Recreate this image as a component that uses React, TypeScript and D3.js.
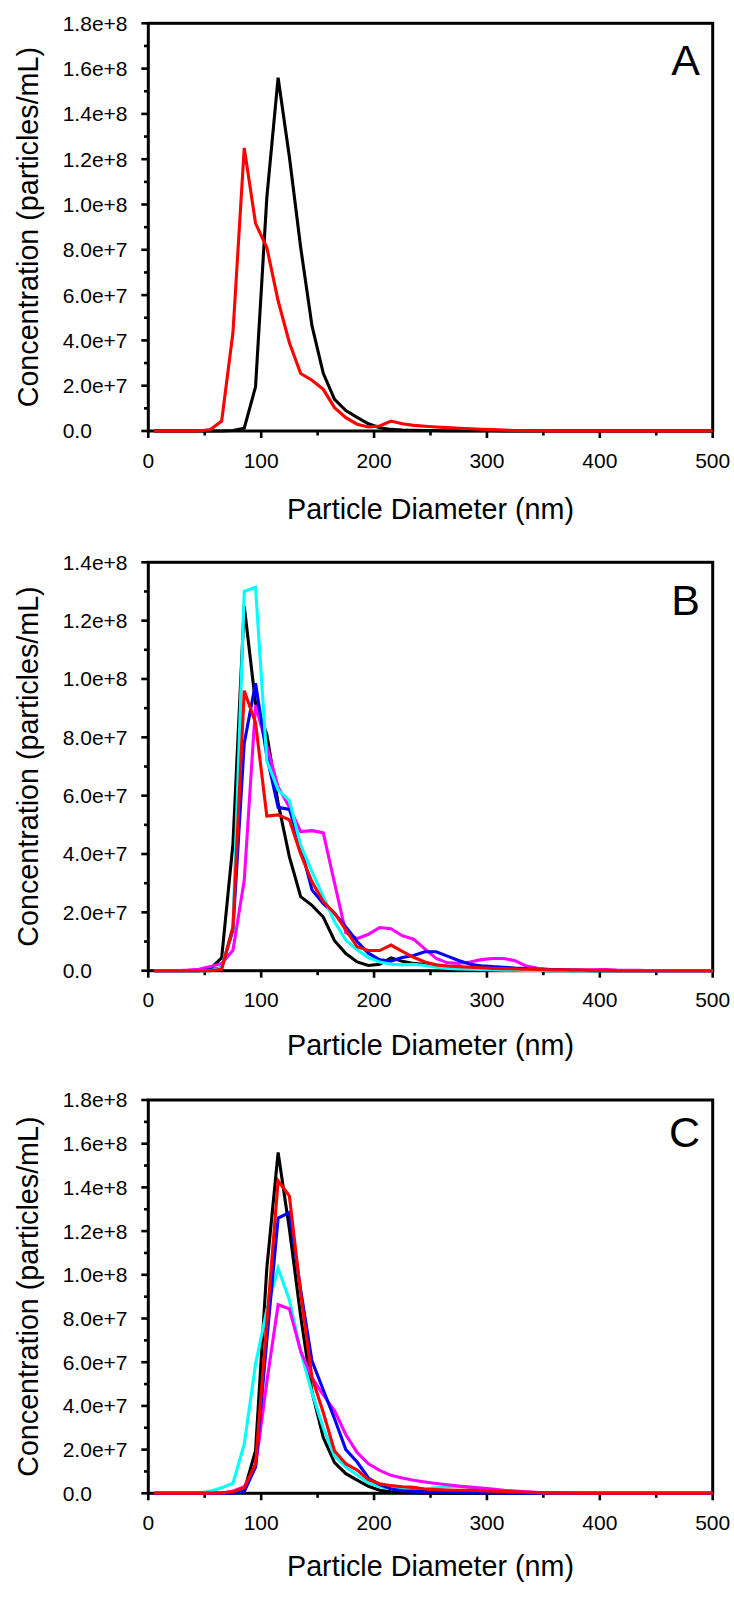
import React from 'react';
import * as d3 from 'd3';

// bin centres (nm) of the particle size distribution
const binNm = [
  5, 15, 25, 35, 45, 55, 65, 75, 85, 95, 105, 115, 125, 135, 145, 155, 165, 175, 185, 195,
  205, 215, 225, 235, 245, 255, 265, 275, 285, 295, 305, 315, 325, 335, 345, 355, 365, 375, 385, 395,
  405, 415, 425, 435, 445, 455, 465, 475, 485, 495, 505,
];

// concentrations in units of 1e7 particles/mL
const UNIT = 1e7;

// black trace, panels A and C
const blackAC = [
  0, 0, 0, 0, 0, 0, 0, 0.02, 0.12, 1.95, 10.3, 15.6, 12.1, 8.1, 4.65, 2.55, 1.4, 0.9, 0.6, 0.32,
  0.14, 0.07, 0.04, 0.03, 0.02, 0.02, 0.01, 0.01, 0.01, 0.01, 0.01, 0, 0, 0, 0, 0, 0, 0, 0, 0,
  0, 0, 0, 0, 0, 0, 0, 0, 0, 0, 0,
];

// red trace of panel A, black trace of panel B
const redA = [
  0, 0, 0, 0, 0, 0.07, 0.44, 4.35, 12.5, 9.17, 8.1, 5.75, 3.9, 2.54, 2.24, 1.84, 1.03, 0.59, 0.3, 0.18,
  0.22, 0.44, 0.32, 0.25, 0.21, 0.18, 0.15, 0.12, 0.1, 0.08, 0.06, 0.04, 0.02, 0.01, 0.01, 0, 0, 0, 0, 0,
  0, 0, 0, 0, 0, 0, 0, 0, 0, 0, 0,
];

const magentaB = [
  0, 0, 0, 0.02, 0.05, 0.14, 0.25, 0.7, 3.1, 9.1, 7.7, 6.3, 5.6, 4.77, 4.8, 4.73, 3.0, 1.3, 1.1, 1.25,
  1.48, 1.44, 1.2, 1.08, 0.75, 0.42, 0.27, 0.25, 0.3, 0.38, 0.42, 0.42, 0.34, 0.16, 0.08, 0.05, 0.03, 0.02, 0.02, 0.03,
  0.04, 0.02, 0.01, 0.01, 0, 0, 0, 0, 0, 0, 0,
];

const blueB = [
  0, 0, 0, 0, 0, 0.03, 0.1, 1.4, 7.8, 9.85, 7.35, 5.6, 5.53, 4.25, 2.77, 2.3, 1.97, 1.5, 1.0, 0.6,
  0.37, 0.33, 0.45, 0.52, 0.65, 0.65, 0.5, 0.35, 0.22, 0.17, 0.14, 0.12, 0.09, 0.07, 0.05, 0.04, 0.03, 0.02, 0.01, 0,
  0, 0, 0, 0, 0, 0, 0, 0, 0, 0, 0,
];

const cyanB = [
  0, 0, 0, 0, 0, 0, 0.1, 1.5, 13.0, 13.14, 7.2, 6.2, 5.83, 4.3, 3.4, 2.54, 1.68, 1.05, 0.72, 0.45,
  0.3, 0.22, 0.2, 0.22, 0.18, 0.12, 0.08, 0.06, 0.05, 0.04, 0.03, 0.02, 0.02, 0.01, 0.01, 0, 0, 0, 0, 0,
  0, 0, 0, 0, 0, 0, 0, 0, 0, 0, 0,
];

const redB = [
  0, 0, 0, 0, 0, 0, 0.05, 1.5, 9.6, 8.5, 5.3, 5.34, 5.17, 4.0, 3.05, 2.37, 1.97, 1.4, 0.82, 0.69,
  0.69, 0.88, 0.66, 0.46, 0.3, 0.2, 0.16, 0.14, 0.12, 0.1, 0.08, 0.07, 0.06, 0.05, 0.04, 0.03, 0.03, 0.02, 0.02, 0.01,
  0.01, 0, 0, 0, 0, 0, 0, 0, 0, 0, 0,
];

const cyanC = [
  0, 0, 0, 0, 0, 0.1, 0.25, 0.46, 2.25, 5.9, 8.4, 10.3, 8.85, 6.5, 4.6, 3.0, 1.7, 1.2, 0.84, 0.48,
  0.3, 0.22, 0.18, 0.18, 0.2, 0.25, 0.3, 0.32, 0.28, 0.2, 0.12, 0.08, 0.05, 0.03, 0.02, 0.01, 0, 0, 0, 0,
  0, 0, 0, 0, 0, 0, 0, 0, 0, 0, 0,
];

const magentaC = [
  0, 0, 0, 0, 0, 0, 0, 0.1, 0.3, 1.2, 5.1, 8.63, 8.44, 6.5, 5.3, 4.5, 3.78, 2.68, 1.87, 1.35,
  1.05, 0.82, 0.7, 0.6, 0.52, 0.45, 0.39, 0.33, 0.29, 0.24, 0.2, 0.14, 0.1, 0.07, 0.04, 0.02, 0.01, 0, 0, 0,
  0, 0, 0, 0, 0, 0, 0, 0, 0, 0, 0,
];

const blueC = [
  0, 0, 0, 0, 0, 0, 0, 0, 0.08, 1.2, 7.0, 12.6, 12.85, 9.3, 6.06, 4.73, 3.41, 2.0, 1.43, 0.7,
  0.4, 0.2, 0.12, 0.1, 0.08, 0.06, 0.05, 0.04, 0.03, 0.03, 0.02, 0.01, 0.01, 0, 0, 0, 0, 0, 0, 0,
  0, 0, 0, 0, 0, 0, 0, 0, 0, 0, 0,
];

const redC = [
  0, 0, 0, 0, 0, 0, 0.02, 0.07, 0.25, 1.35, 7.8, 14.3, 13.6, 9.15, 5.3, 3.7, 1.94, 1.35, 1.06, 0.62,
  0.44, 0.35, 0.3, 0.27, 0.2, 0.17, 0.15, 0.14, 0.15, 0.12, 0.1, 0.08, 0.06, 0.05, 0.03, 0.02, 0.01, 0.01, 0, 0,
  0, 0, 0, 0, 0, 0, 0, 0, 0, 0, 0,
];

const xMajor = [0, 100, 200, 300, 400, 500];
const xMinor = [50, 150, 250, 350, 450];

const LEFT = 148.3;
const RIGHT = 712.7;
const FONT = '"Liberation Sans", Arial, sans-serif';

const panels = [
  {
    letter: 'A', top: 23.3, bottom: 431, yMax: 1.8e8, titleY: 519, letterY: 75.3,
    series: [
      { values: blackAC, color: '#000000' },
      { values: redA, color: '#ff0000' },
    ],
  },
  {
    letter: 'B', top: 562.3, bottom: 970.7, yMax: 1.4e8, titleY: 1055, letterY: 615,
    series: [
      { values: redA, color: '#000000' },
      { values: magentaB, color: '#ff00ff' },
      { values: blueB, color: '#0000ff' },
      { values: cyanB, color: '#00ffff' },
      { values: redB, color: '#ff0000' },
    ],
  },
  {
    letter: 'C', top: 1100, bottom: 1493.3, yMax: 1.8e8, titleY: 1576, letterY: 1147,
    series: [
      { values: blackAC, color: '#000000' },
      { values: cyanC, color: '#00ffff' },
      { values: magentaC, color: '#ff00ff' },
      { values: blueC, color: '#0000ff' },
      { values: redC, color: '#ff0000' },
    ],
  },
];

const fmtY = (v: number) => (v === 0 ? '0.0' : d3.format('.1e')(v));

function Panel({ p }: { p: any }) {
  const x = d3.scaleLinear().domain([0, 500]).range([LEFT, RIGHT]);
  const y = d3.scaleLinear().domain([0, p.yMax]).range([p.bottom, p.top]);
  const line = d3
    .line<number>()
    .x((_, i) => x(binNm[i]))
    .y((v) => y(v * UNIT));

  const yMajor = d3.range(0, Math.round(p.yMax / 2e7) + 1).map((i) => i * 2e7);
  const yMinor = d3.range(1, Math.round(p.yMax / 1e7), 2).map((i) => i * 1e7);
  const clipId = `clip-${p.letter}`;
  const midY = (p.top + p.bottom) / 2;

  return (
    <g>
      <defs>
        <clipPath id={clipId}>
          <rect x={LEFT} y={p.top - 8} width={RIGHT - LEFT} height={p.bottom - p.top + 16} />
        </clipPath>
      </defs>

      {/* y ticks */}
      {yMajor.map((v) => (
        <line key={'ym' + v} x1={LEFT - 7} x2={LEFT} y1={y(v)} y2={y(v)} stroke="#000" strokeWidth={2.6} />
      ))}
      {yMinor.map((v) => (
        <line key={'yn' + v} x1={LEFT - 4.3} x2={LEFT} y1={y(v)} y2={y(v)} stroke="#000" strokeWidth={2.6} />
      ))}
      {/* x ticks */}
      {xMajor.map((v) => (
        <line key={'xm' + v} x1={x(v)} x2={x(v)} y1={p.bottom} y2={p.bottom + 7} stroke="#000" strokeWidth={2.6} />
      ))}
      {xMinor.map((v) => (
        <line key={'xn' + v} x1={x(v)} x2={x(v)} y1={p.bottom} y2={p.bottom + 4.5} stroke="#000" strokeWidth={2.6} />
      ))}

      <rect x={LEFT} y={p.top} width={RIGHT - LEFT} height={p.bottom - p.top} fill="none" stroke="#000" strokeWidth={3} />

      <g clipPath={`url(#${clipId})`}>
        {p.series.map((s: any, i: number) => (
          <path key={i} d={line(s.values) as string} fill="none" stroke={s.color} strokeWidth={3.1} strokeLinejoin="miter" />
        ))}
      </g>

      {/* tick labels */}
      {yMajor.map((v) => (
        <text key={'yl' + v} x={62.7} y={y(v) + 7.4} fontSize={21} fontFamily={FONT} textAnchor="start">
          {fmtY(v)}
        </text>
      ))}
      {xMajor.map((v) => (
        <text key={'xl' + v} x={x(v)} y={p.bottom + 36.6} fontSize={21} fontFamily={FONT} textAnchor="middle">
          {v}
        </text>
      ))}

      <text
        transform={`translate(38.3,${midY}) rotate(-90)`}
        fontSize={28.7}
        fontFamily={FONT}
        textAnchor="middle"
      >
        Concentration (particles/mL)
      </text>
      <text x={(LEFT + RIGHT) / 2} y={p.titleY} fontSize={28.7} fontFamily={FONT} textAnchor="middle">
        Particle Diameter (nm)
      </text>
      <text x={700} y={p.letterY} fontSize={43} fontFamily={FONT} textAnchor="end">
        {p.letter}
      </text>
    </g>
  );
}

export default function App() {
  return (
    <>
      <style>{`body { margin: 0; }`}</style>
      <svg width={734} height={1602} style={{ display: 'block', background: '#fff' }}>
        {panels.map((p) => (
          <Panel key={p.letter} p={p} />
        ))}
      </svg>
    </>
  );
}
